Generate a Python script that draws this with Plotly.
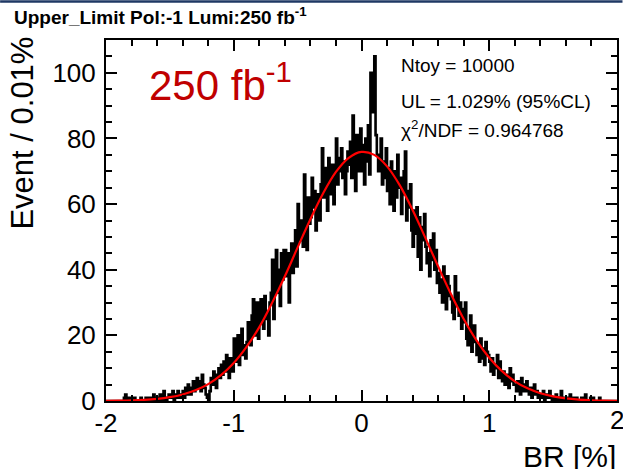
import plotly.graph_objects as go

# ---------------- data ----------------
BR_MIN, BR_MAX, N_BINS = -2.0, 2.0, 400

counts = [
    0, 0, 0, 0, 0, 0, 0, 0, 0, 0,
    0, 0, 0, 0, 1, 2, 0, 0, 1, 0,
    0, 0, 1, 0, 0, 0, 0, 1, 0, 0,
    0, 1, 0, 0, 1, 0, 0, 2, 0, 1,
    1, 0, 2, 1, 0, 3, 1, 0, 1, 2,
    2, 1, 3, 0, 2, 1, 3, 2, 1, 2,
    3, 1, 4, 2, 5, 3, 2, 4, 6, 3,
    5, 7, 4, 6, 3, 8, 5, 4, 2, 1,
    0, 3, 7, 5, 9, 6, 4, 8, 10, 7,
    11, 8, 12, 9, 14, 10, 7, 13, 11, 9,
    19, 12, 16, 20, 11, 15, 22, 14, 17, 13,
    18, 24, 22, 17, 26, 31, 20, 23, 30, 19,
    24, 31, 28, 22, 32, 25, 27, 20, 30, 33,
    43, 25, 38, 46, 33, 40, 29, 45, 37, 46,
    46, 38, 45, 30, 44, 48, 39, 47, 52, 41,
    60, 49, 55, 50, 47, 69, 58, 46, 62, 54,
    56, 68, 59, 64, 52, 63, 61, 55, 66, 77,
    62, 71, 65, 58, 74, 69, 63, 72, 60, 68,
    80, 66, 74, 70, 77, 68, 73, 63, 70, 76,
    72, 79, 68, 87, 74, 64, 81, 70, 77, 83,
    70, 78, 66, 80, 73, 84, 69, 100, 94, 88,
    105, 81, 75, 70, 72, 80, 66, 73, 68, 77,
    64, 71, 60, 73, 66, 58, 70, 62, 75, 65,
    68, 57, 63, 70, 76, 55, 64, 59, 66, 52,
    47, 58, 51, 59, 44, 56, 40, 53, 49, 57,
    47, 42, 45, 38, 49, 43, 51, 40, 46, 36,
    39, 33, 37, 30, 41, 34, 28, 38, 35, 32,
    31, 27, 25, 38, 29, 33, 26, 30, 22, 28,
    24, 30, 19, 17, 22, 26, 15, 20, 23, 18,
    14, 17, 12, 19, 13, 16, 11, 18, 15, 14,
    12, 9, 13, 8, 11, 10, 14, 7, 12, 9,
    6, 9, 5, 8, 7, 4, 10, 6, 8, 5,
    5, 3, 6, 4, 2, 7, 5, 3, 4, 6,
    3, 2, 4, 1, 3, 5, 2, 3, 1, 2,
    2, 1, 3, 0, 2, 1, 2, 3, 1, 0,
    1, 0, 2, 1, 0, 1, 3, 0, 1, 0,
    0, 1, 0, 2, 0, 0, 1, 0, 1, 0,
    0, 0, 1, 0, 0, 2, 0, 0, 0, 1,
    0, 1, 0, 0, 0, 0, 1, 0, 0, 0,
    0, 0, 0, 0, 0, 0, 0, 0, 0, 0,
]

fit_x = [-2.0, -1.9, -1.8, -1.7, -1.6, -1.5, -1.4, -1.3, -1.2, -1.1,
         -1.0, -0.9, -0.8, -0.7, -0.6, -0.5, -0.4, -0.3, -0.2, -0.1,
         0.0, 0.1, 0.2, 0.3, 0.4, 0.5, 0.6, 0.7, 0.8, 0.9,
         1.0, 1.1, 1.2, 1.3, 1.4, 1.5, 1.6, 1.7, 1.8, 1.9, 2.0]
fit_y = [0.05, 0.1, 0.19, 0.36, 0.66, 1.18, 2.0, 3.25, 5.15, 7.9,
         11.6, 16.5, 22.5, 29.9, 38.0, 46.8, 55.4, 63.3, 69.8, 74.1,
         75.9, 75.0, 71.5, 65.7, 58.2, 49.7, 41.0, 32.6, 25.0, 18.5,
         13.2, 9.1, 6.0, 3.85, 2.35, 1.4, 0.8, 0.44, 0.23, 0.12, 0.06]

title_text = "<b>Upper_Limit Pol:-1 Lumi:250 fb<sup>-1</sup></b>"
lumi_label = "250 fb<sup>-1</sup>"
stats_lines = ["Ntoy = 10000", "UL = 1.029% (95%CL)", "χ<sup>2</sup>/NDF = 0.964768"]
x_title = "BR [%]"
y_title = "Event / 0.01%"
x_ticks = [-2, -1, 0, 1, 2]
y_ticks = [0, 20, 40, 60, 80, 100]

# ---------------- geometry ----------------
W, H = 623, 469
L, R, T, B = 106, 617.5, 40, 401
PW, PH = R - L, B - T


def px(xp):
    return (xp - L) / PW


def py(yp):
    return (B - yp) / PH


FONT = "Liberation Sans, Arial, Helvetica, sans-serif"
TICK_FONT = dict(family=FONT, size=26, color="black")

bw = (BR_MAX - BR_MIN) / N_BINS
edges = [BR_MIN + i * bw for i in range(N_BINS + 1)]
hx = edges
hy = counts + [counts[-1]]

fig = go.Figure()
fig.add_trace(go.Scatter(x=hx, y=hy, mode="lines", line=dict(color="black", width=2.6, shape="hv"),
                         hoverinfo="skip", showlegend=False))
fig.add_trace(go.Scatter(x=fit_x, y=fit_y, mode="lines",
                         line=dict(color="#ff0000", width=2.2, shape="spline", smoothing=1.0),
                         hoverinfo="skip", showlegend=False))

axis_common = dict(
    showgrid=False, zeroline=False, showline=True, linecolor="black", linewidth=2,
    mirror="allticks", ticks="inside", ticklen=11, tickwidth=1.5, tickcolor="black",
    tickfont=TICK_FONT, automargin=False,
)
fig.update_xaxes(range=[BR_MIN, BR_MAX], tickvals=x_ticks, ticktext=[str(v) for v in x_ticks],
                 minor=dict(dtick=0.2, ticks="inside", ticklen=6, tickwidth=1.5, tickcolor="black"),
                 ticklabelstandoff=-2, **axis_common)
fig.update_yaxes(range=[0, 110], tickvals=y_ticks, ticktext=[str(v) for v in y_ticks],
                 minor=dict(dtick=5, ticks="inside", ticklen=6, tickwidth=1.5, tickcolor="black"),
                 ticklabelstandoff=3, **axis_common)

ann = []
# the last x tick label sits on the window edge; plotly drops it, so draw it as text
ann.append(dict(text=str(x_ticks[-1]), x=x_ticks[-1], y=py(420), xref="x", yref="paper",
                xanchor="center", yanchor="middle", showarrow=False, font=TICK_FONT))
ann.append(dict(text=lumi_label, x=px(147), y=py(82), xref="paper", yref="paper",
                xanchor="left", yanchor="middle", showarrow=False,
                font=dict(family=FONT, size=42, color="#c00000")))
for line, yp in zip(stats_lines, [65, 101, 129]):
    ann.append(dict(text=line, x=px(399), y=py(yp), xref="paper", yref="paper",
                    xanchor="left", yanchor="middle", showarrow=False,
                    font=dict(family=FONT, size=19, color="black")))
ann.append(dict(text=y_title, x=px(22), y=py(35), xref="paper", yref="paper",
                xanchor="center", yanchor="top", textangle=-90, showarrow=False,
                font=dict(family=FONT, size=31, color="black")))
ann.append(dict(text=x_title, x=px(619), y=py(456), xref="paper", yref="paper",
                xanchor="right", yanchor="middle", showarrow=False,
                font=dict(family=FONT, size=30, color="black")))
ann.append(dict(text=title_text, x=px(12), y=py(16), xref="paper", yref="paper",
                xanchor="left", yanchor="middle", showarrow=False,
                font=dict(family=FONT, size=19, color="black")))

fig.update_layout(
    width=W, height=H, autosize=False,
    margin=dict(l=L, r=W - R, t=T, b=H - B, pad=0, autoexpand=False),
    paper_bgcolor="white", plot_bgcolor="white",
    annotations=ann,
    shapes=[dict(type="line", xref="paper", yref="paper", x0=px(0), x1=px(W), y0=py(1.5), y1=py(1.5),
                 line=dict(color="#1f3864", width=2.5))],
)

fig.write_html("out.html", config={"displayModeBar": False, "responsive": False},
               post_script="document.body.style.margin='0';document.body.style.padding='0';"
                           "document.body.style.overflow='hidden';")
